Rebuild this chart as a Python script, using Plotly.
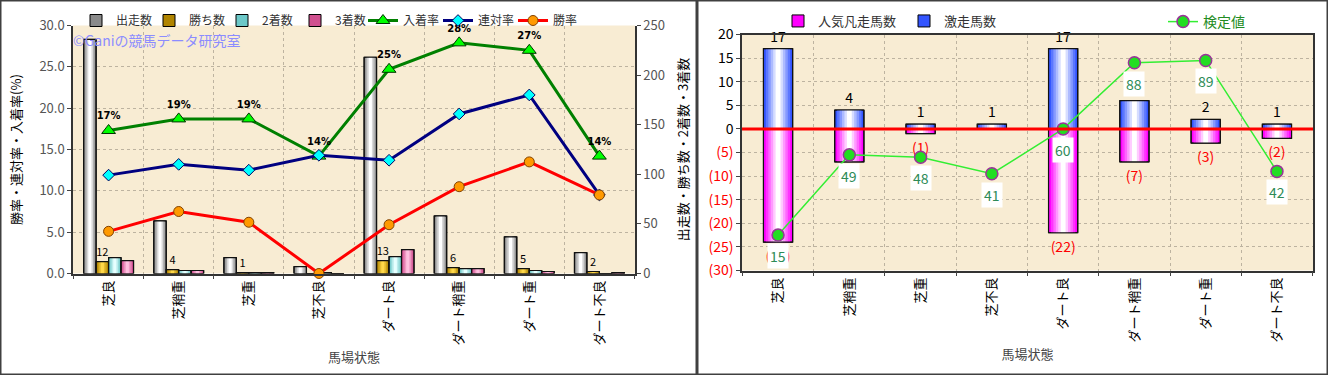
import plotly.graph_objects as go

W, H = 1328, 375

# ---------------- data ----------------
categories = ["芝良", "芝稍重", "芝重", "芝不良", "ダート良", "ダート稍重", "ダート重", "ダート不良"]

# left chart (counts)
starters = [236, 53, 16, 7, 218, 58, 37, 21]      # 出走数
wins = [12, 4, 1, 0, 13, 6, 5, 2]                  # 勝ち数
seconds = [16, 3, 1, 1, 17, 5, 3, 0]               # 2着数
thirds = [13, 3, 1, 0, 24, 5, 2, 1]                # 3着数
# left chart (rates, %)
place_rate = [17.3, 18.7, 18.7, 14.2, 24.7, 27.9, 27.0, 14.2]    # 入着率
quinella_rate = [11.9, 13.2, 12.5, 14.3, 13.7, 19.3, 21.6, 9.5]  # 連対率
win_rate = [5.1, 7.5, 6.2, 0.0, 5.9, 10.5, 13.5, 9.5]            # 勝率

# right chart
longshot_runs = [17, 4, 1, 1, 17, 6, 2, 1]        # 激走馬数
favorite_flops = [24, 7, 1, 0, 22, 7, 3, 2]       # 人気凡走馬数 (drawn downward)
test_values = [15, 49, 48, 41, 60, 88, 89, 42]    # 検定値

pct_ticks = [0, 5, 10, 15, 20, 25, 30]
count_ticks = [0, 50, 100, 150, 200, 250]
right_ticks = [-30, -25, -20, -15, -10, -5, 0, 5, 10, 15, 20]

FONT = "Noto Sans CJK JP"


def px_x(p):
    return p / W


def px_y(p):
    return 1 - p / H


def hex2rgb(h):
    h = h.lstrip("#")
    return tuple(int(h[i:i + 2], 16) for i in (0, 2, 4))


def mix(c1, c2, t):
    a, b = hex2rgb(c1), hex2rgb(c2)
    return "rgb(%d,%d,%d)" % tuple(round(a[i] + (b[i] - a[i]) * t) for i in range(3))


def gradient_bars(x, y, name, edge, center, width, offset, xa, ya, layers,
                  legend="legend", text=None, textfont=None):
    out = []
    for k in range(layers):
        frac = k / layers
        w = width * (1 - frac)
        off = offset + (width - w) / 2
        col = mix(edge, center, k / (layers - 1))
        out.append(go.Bar(
            x=x, y=y, name=name, width=w, offset=off, xaxis=xa, yaxis=ya,
            marker=dict(color=col, line=dict(color="#000", width=1 if k == 0 else 0)),
            showlegend=(k == 0), legend=legend, legendgroup=name, hoverinfo="skip"))
    out.append(go.Bar(
        x=x, y=y, name=name, width=width, offset=offset, xaxis=xa, yaxis=ya,
        marker=dict(color="rgba(0,0,0,0)", line=dict(color="#111", width=1.2)),
        showlegend=False, legendgroup=name, legend=legend,
        text=text, textposition="outside" if text is not None else None,
        textfont=textfont, cliponaxis=False))
    return out


fig = go.Figure()

# ---------------- left chart ----------------
bw = 0.178
for vals, nm, edge, cen, off, txt in [
    (starters, "出走数", "#8a8a8a", "#ffffff", -2 * bw, None),
    (wins, "勝ち数", "#b08400", "#ffd84a", -bw, [str(v) if v else "" for v in wins]),
    (seconds, "2着数", "#6cc8c8", "#e6ffff", 0, None),
    (thirds, "3着数", "#d0508f", "#ffc0e0", bw, None),
]:
    for t in gradient_bars(categories, vals, nm, edge, cen, bw, off, "x", "y", 4,
                           text=txt, textfont=dict(size=11, color="#000", family=FONT)):
        fig.add_trace(t)

fig.add_trace(go.Scatter(
    x=categories, y=place_rate, name="入着率", xaxis="x", yaxis="y2", legend="legend4",
    mode="lines+markers+text",
    line=dict(color="#008000", width=3),
    marker=dict(symbol="triangle-up", size=12, color="#00ff00", line=dict(color="#003300", width=1)),
    text=["%d%%" % round(v) for v in place_rate], textposition="top center",
    textfont=dict(size=10, color="#000", family="DejaVu Sans", weight="bold"),
    cliponaxis=False))
fig.add_trace(go.Scatter(
    x=categories, y=quinella_rate, name="連対率", xaxis="x", yaxis="y2", legend="legend4",
    mode="lines+markers",
    line=dict(color="#000080", width=3),
    marker=dict(symbol="diamond", size=9, color="#00ffff", line=dict(color="#000060", width=1))))
fig.add_trace(go.Scatter(
    x=categories, y=win_rate, name="勝率", xaxis="x", yaxis="y2", legend="legend4",
    mode="lines+markers",
    line=dict(color="#ff0000", width=3),
    marker=dict(symbol="circle", size=10, color="#ff9900", line=dict(color="#804000", width=1)),
    cliponaxis=False))

# ---------------- right chart ----------------
for t in gradient_bars(categories, [-v for v in favorite_flops], "人気凡走馬数", "#ff00ff", "#ffffff",
                       0.41, -0.205, "x2", "y3", 6, legend="legend2",
                       text=["(%d)" % v if v else "" for v in favorite_flops],
                       textfont=dict(size=14, color="#ff0000", family=FONT)):
    fig.add_trace(t)
for t in gradient_bars(categories, longshot_runs, "激走馬数", "#3355ff", "#ffffff",
                       0.41, -0.205, "x2", "y3", 6, legend="legend2",
                       text=[str(v) for v in longshot_runs],
                       textfont=dict(size=14, color="#000", family=FONT)):
    fig.add_trace(t)

fig.add_trace(go.Scatter(
    x=categories, y=test_values, name="検定値", xaxis="x2", yaxis="y4",
    mode="lines+markers", legend="legend3",
    line=dict(color="#33ee33", width=1.5),
    marker=dict(symbol="circle", size=12, color="#22dd22", line=dict(color="#993399", width=1.5)),
    cliponaxis=False))

annotations = []
for c, v in zip(categories, test_values):
    annotations.append(dict(
        x=c, y=v, xref="x2", yref="y4", text=str(v), showarrow=False, yshift=-21,
        font=dict(size=14, color="#2e8b57", family=FONT), bgcolor="#ffffff", borderpad=2))

annotations.append(dict(
    x=px_x(71), y=px_y(40), xref="paper", yref="paper", xanchor="left", yanchor="middle",
    text="©Ganiの競馬データ研究室", showarrow=False,
    font=dict(size=14, color="#8c8cff", family=FONT)))

grid = dict(showgrid=True, gridcolor="#bdb3a0", griddash="dot", gridwidth=1)

LX = [px_x(73), px_x(635)]
LY = [px_y(273.5), px_y(25.5)]
RX = [px_x(742), px_x(1313)]
RY = [px_y(270.5), px_y(34.5)]

xcommon = dict(type="category", tickangle=-90, tickson="boundaries", ticks="outside", ticklen=4,
               showline=True, linecolor="#333", linewidth=1.5, fixedrange=True,
               tickfont=dict(size=13, color="#000", family=FONT),
               title=dict(text="馬場状態", font=dict(size=13, color="#444", family=FONT), standoff=8),
               **grid)

red_span = "<span style='color:#ff0000'>(%d)</span>"

legend_common = dict(orientation="h", xanchor="left", yanchor="top", bgcolor="rgba(0,0,0,0)")

fig.update_layout(
    width=W, height=H,
    margin=dict(l=0, r=0, t=0, b=0, autoexpand=False),
    paper_bgcolor="#ffffff",
    plot_bgcolor="#f8ecd3",
    barmode="overlay",
    font=dict(family=FONT, size=13, color="#333"),
    xaxis=dict(domain=LX, anchor="y", **xcommon),
    yaxis=dict(domain=LY, anchor="x", side="right", range=[0, 250], tickvals=count_ticks,
               showgrid=False, zeroline=False, showline=True, linecolor="#333", linewidth=1.5,
               ticks="outside", ticklen=4, tickfont=dict(size=13, color="#555"),
               title=dict(text="出走数・勝ち数・2着数・3着数", font=dict(size=13, color="#000"))),
    yaxis2=dict(overlaying="y", anchor="x", side="left", range=[0, 30], tickvals=pct_ticks,
                tickformat=".1f", ticksuffix="%", zeroline=False,
                showline=True, linecolor="#333", linewidth=1.5,
                ticks="outside", ticklen=4, tickfont=dict(size=13, color="#555"),
                title=dict(text="勝率・連対率・入着率(%)", font=dict(size=13, color="#000")),
                **grid),
    xaxis2=dict(domain=RX, anchor="y3", mirror=True, **xcommon),
    yaxis3=dict(domain=RY, anchor="x2", range=[-30, 20], tickvals=right_ticks,
                ticktext=[red_span % -v if v < 0 else str(v) for v in right_ticks],
                zeroline=False, showline=True, linecolor="#333", linewidth=1.5, mirror=True,
                ticks="outside", ticklen=4, tickfont=dict(size=14, color="#000"), **grid),
    yaxis4=dict(overlaying="y3", anchor="x2", range=[0, 100], visible=False),
    legend=dict(x=px_x(76), y=px_y(6), font=dict(size=12, color="#333"),
                entrywidth=28, entrywidthmode="pixels", **legend_common),
    legend4=dict(x=px_x(363), y=px_y(6), font=dict(size=12, color="#333"),
                 entrywidth=30, entrywidthmode="pixels", **legend_common),
    legend2=dict(x=px_x(778), y=px_y(6), font=dict(size=13, color="#333"),
                 entrywidth=81, entrywidthmode="pixels", **legend_common),
    legend3=dict(x=px_x(1163), y=px_y(6), font=dict(size=14, color="#228b22"), **legend_common),
    annotations=annotations,
    shapes=[
        dict(type="line", xref="x2 domain", yref="y3", x0=0, x1=1, y0=0, y1=0,
             line=dict(color="#ff0000", width=3), layer="above"),
        dict(type="rect", xref="paper", yref="paper", x0=0, x1=1, y0=0, y1=1,
             line=dict(color="#404040", width=3)),
        dict(type="line", xref="paper", yref="paper", x0=px_x(697), x1=px_x(697), y0=0, y1=1,
             line=dict(color="#404040", width=3)),
    ],
)

fig.write_html("out.html", config={"displayModeBar": False},
               post_script="document.body.style.margin='0';document.body.style.overflow='hidden';")
